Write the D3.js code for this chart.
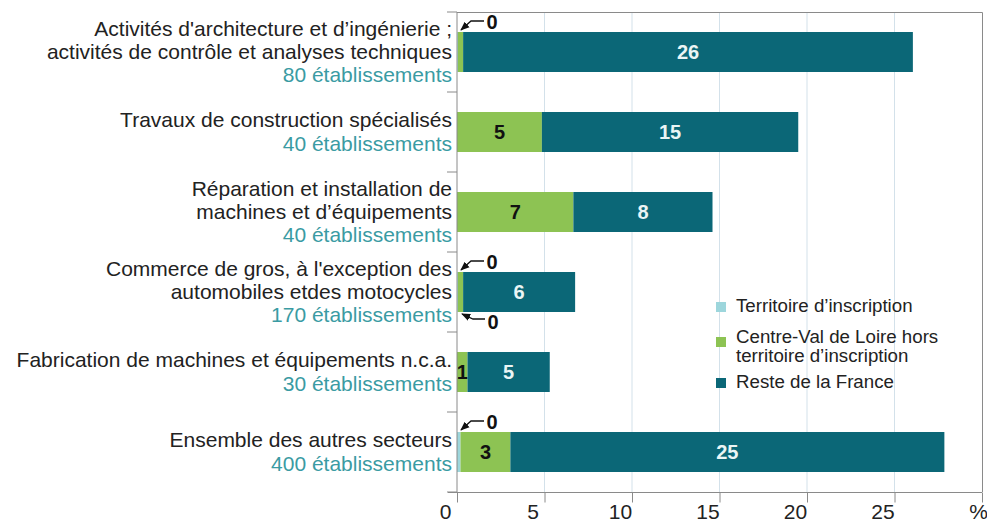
<!DOCTYPE html>
<html>
<head>
<meta charset="utf-8">
<script src="https://cdn.jsdelivr.net/npm/d3@7"></script>
<style>
  body { margin: 0; background: #fff; }
  svg { font-family: "Liberation Sans", Arial, sans-serif; }
</style>
</head>
<body>
<div id="chart"></div>
<script>
'use strict';

// categories (label lines) and establishment counts
const categories = [
  ['Activités d\'architecture et d’ingénierie ;', 'activités de contrôle et analyses techniques'],
  ['Travaux de construction spécialisés'],
  ['Réparation et installation de', 'machines et d’équipements'],
  ['Commerce de gros, à l\'exception des', 'automobiles etdes motocycles'],
  ['Fabrication de machines et équipements n.c.a.'],
  ['Ensemble des autres secteurs']
];
const establishments = ['80 établissements', '40 établissements', '40 établissements',
  '170 établissements', '30 établissements', '400 établissements'];

const seriesNames = ['Territoire d’inscription', 'Centre-Val de Loire hors territoire d’inscription', 'Reste de la France'];
const territoire = [0.05, 0, 0, 0.05, 0, 0.2];
const centreVal = [0.3, 4.85, 6.65, 0.3, 0.6, 2.85];
const resteFrance = [25.7, 14.65, 7.95, 6.4, 4.7, 24.8];

// "0" call-outs for tiny segments: [category index, series index, side]
const callouts = [[0, 0, 'top'], [3, 0, 'top'], [3, 1, 'bottom'], [5, 0, 'top']];

const xTicks = [0, 5, 10, 15, 20, 25, 30];

const colors = ['#9dd6dc', '#8dc353', '#0b6777'];
const labelColors = ['#111', '#111', '#eaf5f5'];

const width = 987, height = 527;
const margin = [12, 35, 457, 5]; // top, bottom, left, right

const svg = d3.select('#chart').append('svg')
  .attr('width', width).attr('height', height);

const defs = svg.append('defs');
defs.append('marker')
  .attr('id', 'arrow')
  .attr('viewBox', '0 0 10 10')
  .attr('refX', 9).attr('refY', 5)
  .attr('markerWidth', 7).attr('markerHeight', 7)
  .attr('orient', 'auto-start-reverse')
  .append('path')
  .attr('d', 'M0,1 L10,5 L0,9 z')
  .attr('fill', '#111');

const x = d3.scaleLinear().domain([0, 30]).range([margin[2], width - margin[3]]);
const y = d3.scaleBand()
  .domain(d3.range(categories.length))
  .range([margin[0], height - margin[1]])
  .paddingInner(0.5).paddingOuter(0.25);

const plotTop = margin[0], plotBottom = height - margin[1];

// grid lines
svg.append('g')
  .selectAll('line')
  .data(xTicks.filter(d => d > 0 && d < 30))
  .join('line')
  .attr('x1', d => x(d)).attr('x2', d => x(d))
  .attr('y1', plotTop).attr('y2', plotBottom)
  .attr('stroke', '#d3e1ea').attr('stroke-width', 1);

// frame top and right
svg.append('path')
  .attr('d', `M${x(0)},${plotTop + 0.5}H${x(30) + 0.5}V${plotBottom}`)
  .attr('fill', 'none').attr('stroke', '#8a8a8a');

// stacked bars
const rows = categories.map((c, i) => ({ i, s0: territoire[i], s1: centreVal[i], s2: resteFrance[i] }));
const stack = d3.stack().keys(['s0', 's1', 's2'])(rows);

const barGroup = svg.append('g');
stack.forEach((layer, k) => {
  barGroup.append('g')
    .selectAll('rect')
    .data(layer)
    .join('rect')
    .attr('x', d => x(d[0]))
    .attr('y', d => y(d.data.i))
    .attr('width', d => Math.max(0, x(d[1]) - x(d[0])))
    .attr('height', y.bandwidth())
    .attr('fill', colors[k]);

  barGroup.append('g')
    .selectAll('text')
    .data(layer.filter(d => x(d[1]) - x(d[0]) >= 9))
    .join('text')
    .attr('x', d => (x(d[0]) + x(d[1])) / 2)
    .attr('y', d => y(d.data.i) + y.bandwidth() / 2)
    .attr('dy', '0.36em')
    .attr('text-anchor', 'middle')
    .attr('font-size', 20)
    .attr('font-weight', 'bold')
    .attr('fill', labelColors[k])
    .text(d => Math.round(d[1] - d[0]));
});

// call-outs
const values = [territoire, centreVal, resteFrance];
const calloutGroup = svg.append('g');
callouts.forEach(([i, k, side]) => {
  const x0 = x(0);
  const top = y(i), bottom = y(i) + y.bandwidth();
  let path, tx, ty;
  if (side === 'top') {
    path = `M${x0 + 27},${top - 11}H${x0 + 14}L${x0 + 4},${top - 2}`;
    tx = x0 + 35; ty = top - 3;
  } else {
    path = `M${x0 + 28},${bottom + 7}H${x0 + 16}L${x0 + 5},${bottom + 2}`;
    tx = x0 + 36; ty = bottom + 17;
  }
  calloutGroup.append('path')
    .attr('d', path)
    .attr('fill', 'none').attr('stroke', '#111').attr('stroke-width', 1.3)
    .attr('marker-end', 'url(#arrow)');
  calloutGroup.append('text')
    .attr('x', tx).attr('y', ty)
    .attr('text-anchor', 'middle')
    .attr('font-size', 20).attr('font-weight', 'bold').attr('fill', '#111')
    .text(Math.round(values[k][i]));
});

// y axis with ticks between categories
const yAxis = svg.append('g');
yAxis.append('line')
  .attr('x1', x(0)).attr('x2', x(0))
  .attr('y1', plotTop).attr('y2', plotBottom)
  .attr('stroke', '#8a8a8a');
yAxis.selectAll('line.tick')
  .data(d3.range(categories.length + 1))
  .join('line')
  .attr('class', 'tick')
  .attr('x1', x(0) - 10).attr('x2', x(0))
  .attr('y1', d => plotTop + d * y.step())
  .attr('y2', d => plotTop + d * y.step())
  .attr('stroke', '#8a8a8a');

// category labels
const lineH = 23.3;
const labelGroup = svg.append('g').attr('font-size', 21);
categories.forEach((lines, i) => {
  const all = lines.concat([establishments[i]]);
  const cy = y(i) + y.bandwidth() / 2;
  const t = labelGroup.append('text')
    .attr('text-anchor', 'end')
    .attr('x', x(0) - 5);
  all.forEach((line, j) => {
    t.append('tspan')
      .attr('x', x(0) - 5)
      .attr('y', cy + 7 + (j - (all.length - 1) / 2) * lineH)
      .attr('fill', j === all.length - 1 ? '#3a9ba3' : '#222')
      .text(line);
  });
});

// x axis
const xAxis = d3.axisBottom(x)
  .tickValues(xTicks)
  .tickSize(10)
  .tickSizeOuter(0)
  .tickFormat(d => d === 30 ? '%' : d);

const gx = svg.append('g')
  .attr('transform', `translate(0,${plotBottom + 0.5})`)
  .call(xAxis);
gx.select('.domain').attr('stroke', '#8a8a8a').attr('d', `M${x(0) - 9},0H${x(30)}`);
gx.selectAll('.tick line').attr('stroke', '#8a8a8a');
gx.selectAll('.tick text')
  .attr('font-family', '"Liberation Sans", Arial, sans-serif')
  .attr('font-size', 21)
  .attr('fill', '#222')
  .attr('y', 12)
  .attr('dx', d => d === 30 ? -4 : -12);

// legend
const legend = svg.append('g').attr('font-size', 18.7).attr('fill', '#222');
const legendItems = [
  { lines: ['Territoire d’inscription'], y: 312 },
  { lines: ['Centre-Val de Loire hors', 'territoire d’inscription'], y: 343 },
  { lines: ['Reste de la France'], y: 388 }
];
legendItems.forEach((item, k) => {
  const sqY = item.lines.length > 1 ? item.y + 4 : item.y;
  legend.append('rect')
    .attr('x', 716).attr('y', sqY - 10)
    .attr('width', 10).attr('height', 10)
    .attr('fill', colors[k]);
  const t = legend.append('text').attr('x', 736);
  item.lines.forEach((line, j) => {
    t.append('tspan').attr('x', 736).attr('y', item.y + j * 19).text(line);
  });
});
</script>
</body>
</html>
